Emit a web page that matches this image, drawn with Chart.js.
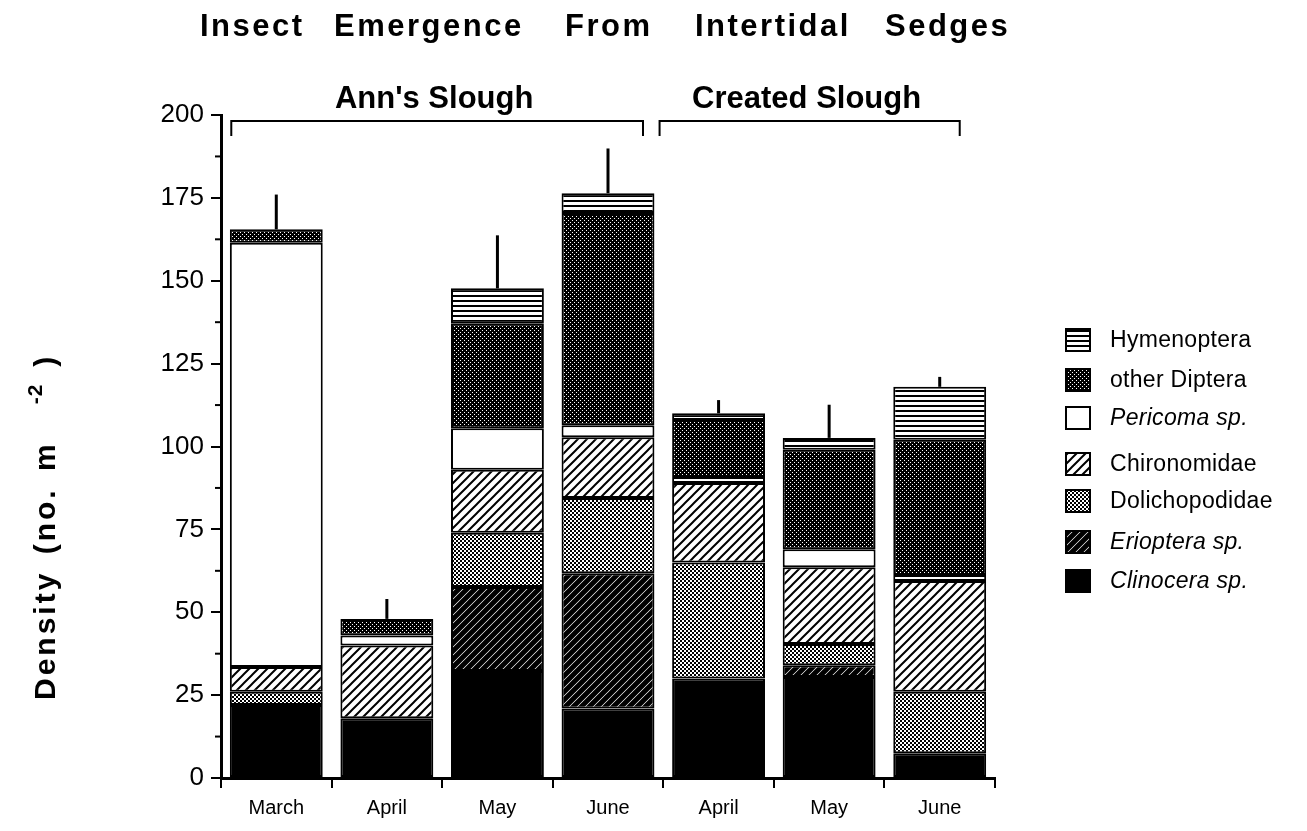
<!DOCTYPE html>
<html>
<head>
<meta charset="utf-8">
<script src="https://cdn.jsdelivr.net/npm/chart.js@4"></script>
<style>
html, body { margin: 0; padding: 0; background: #fff; }
#wrap { position: relative; width: 1307px; height: 831px; }
.tw { position: absolute; top: 10px; font: bold 31px/31px "Liberation Sans", Arial, sans-serif;
  letter-spacing: 2.5px; white-space: nowrap; color: #000; }
</style>
</head>
<body>
<div id="wrap">
  <span class="tw" style="left:200px">Insect</span>
  <span class="tw" style="left:334px">Emergence</span>
  <span class="tw" style="left:565px">From</span>
  <span class="tw" style="left:695px">Intertidal</span>
  <span class="tw" style="left:885px">Sedges</span>
  <canvas id="c" width="1307" height="831"></canvas>
</div>
<script>
// months, grouped by site
const months = ['March', 'April', 'May', 'June', 'April', 'May', 'June'];
const sites = ["Ann's Slough", 'Created Slough'];
const siteFirst = [0, 4];
const siteLast = [3, 6];

// densities (no. m-2), bottom to top of each bar
const clinocera = [22, 18, 32.3, 21, 30, 30.5, 7.5];
const erioptera = [0, 0, 25.3, 40.8, 0, 3.5, 0];
const dolichopodidae = [4, 0, 16.4, 22.7, 35, 6.4, 18.5];
const chironomidae = [7.5, 22, 19, 18.3, 24, 23.2, 33.4];
const pericoma = [128, 3, 12.5, 3.6, 1.8, 5.4, 1.8];
const otherDiptera = [4, 5, 31.7, 64, 17.2, 30, 40.8];
const hymenoptera = [0, 0, 10.5, 6, 2, 3.6, 16];
// standard error on the total
const totalSE = [10.5, 6, 16, 13.5, 4, 10, 3];

const yTicks = [0, 25, 50, 75, 100, 125, 150, 175, 200];
const yMinorTicks = [12.5, 37.5, 62.5, 87.5, 112.5, 137.5, 162.5, 187.5];

const FONT = '"Liberation Sans", Arial, sans-serif';

// fill patterns
const pctx = document.createElement('canvas').getContext('2d');
function pat(w, h, draw) {
  const c = document.createElement('canvas');
  c.width = w; c.height = h;
  const g = c.getContext('2d');
  g.fillStyle = '#fff';
  g.fillRect(0, 0, w, h);
  g.fillStyle = '#000';
  g.strokeStyle = '#000';
  draw(g, w, h);
  return pctx.createPattern(c, 'repeat');
}
function diag(s, lw) {
  return pat(s, s, function (g) {
    g.lineWidth = lw;
    g.beginPath();
    g.moveTo(0, s); g.lineTo(s, 0);
    g.moveTo(-s / 2, s / 2); g.lineTo(s / 2, -s / 2);
    g.moveTo(s / 2, s * 1.5); g.lineTo(s * 1.5, s / 2);
    g.stroke();
  });
}
const fills = {
  hym: pat(4, 5, g => g.fillRect(0, 0, 4, 2)),
  dip: pat(4, 4, g => { g.fillRect(0, 0, 4, 4); g.fillStyle = '#fff'; g.fillRect(0, 0, 1, 1); g.fillRect(2, 2, 1, 1); }),
  per: '#fff',
  chi: diag(9, 2),
  dol: pat(4, 4, g => { g.fillRect(0, 0, 2, 2); g.fillRect(2, 2, 2, 2); }),
  eri: diag(8, 5),
  cli: '#000'
};

function ds(label, data, fill, italic) {
  return { label: label, data: data, backgroundColor: fill, borderColor: '#000', borderWidth: 2,
    borderSkipped: false, italic: italic };
}
const datasets = [
  ds('Clinocera sp.', clinocera, fills.cli, true),
  ds('Erioptera sp.', erioptera, fills.eri, true),
  ds('Dolichopodidae', dolichopodidae, fills.dol, false),
  ds('Chironomidae', chironomidae, fills.chi, false),
  ds('Pericoma sp.', pericoma, fills.per, true),
  ds('other Diptera', otherDiptera, fills.dip, false),
  ds('Hymenoptera', hymenoptera, fills.hym, false)
];

// text with extra letter spacing, drawn glyph by glyph (wider gap at spaces)
function spaced(ctx, text, x, y, ls, ws) {
  let cx = x;
  for (const ch of text) {
    ctx.fillText(ch, cx, y);
    cx += ctx.measureText(ch).width + ls + (ch === ' ' ? (ws || 0) : 0);
  }
  return cx - x - ls;
}

const extras = {
  id: 'extras',
  afterDatasetsDraw(chart) {
    const ctx = chart.ctx;
    const xs = chart.scales.x, ys = chart.scales.y;
    ctx.save();
    // error bars
    ctx.strokeStyle = '#000';
    ctx.lineWidth = 3;
    months.forEach(function (m, i) {
      let tot = 0;
      datasets.forEach(d => tot += d.data[i]);
      const x = xs.getPixelForValue(i);
      ctx.beginPath();
      ctx.moveTo(x, ys.getPixelForValue(tot));
      ctx.lineTo(x, ys.getPixelForValue(tot + totalSE[i]));
      ctx.stroke();
    });
    // minor y ticks
    ctx.lineWidth = 2;
    yMinorTicks.forEach(function (v) {
      const y = ys.getPixelForValue(v);
      ctx.beginPath();
      ctx.moveTo(xs.left - 6, y); ctx.lineTo(xs.left, y);
      ctx.stroke();
    });
    // site brackets
    const padL = [-45, -59], padR = [35, 20];
    ctx.fillStyle = '#000';
    ctx.font = 'bold 31px ' + FONT;
    ctx.textAlign = 'center';
    ctx.textBaseline = 'alphabetic';
    sites.forEach(function (s, k) {
      const x0 = xs.getPixelForValue(siteFirst[k]) + padL[k];
      const x1 = xs.getPixelForValue(siteLast[k]) + padR[k];
      ctx.beginPath();
      ctx.moveTo(x0, 136); ctx.lineTo(x0, 121); ctx.lineTo(x1, 121); ctx.lineTo(x1, 136);
      ctx.stroke();
      ctx.fillText(s, (x0 + x1) / 2 - 3, 108);
    });
    // y title
    ctx.save();
    ctx.translate(55, 700);
    ctx.rotate(-Math.PI / 2);
    ctx.textAlign = 'left';
    ctx.font = 'bold 30px ' + FONT;
    const w = spaced(ctx, 'Density (no. m', 0, 0, 3, 5);
    ctx.font = 'bold 21px ' + FONT;
    const sw = spaced(ctx, '-2', w + 40, -13, 1);
    ctx.font = 'bold 30px ' + FONT;
    ctx.fillText(')', w + 40 + sw + 18, 0);
    ctx.restore();
    // legend, top entry first
    const rows = [340, 380, 418, 464, 501, 542, 581];
    ctx.textAlign = 'left';
    ctx.textBaseline = 'middle';
    datasets.slice().reverse().forEach(function (d, j) {
      const y = rows[j];
      ctx.fillStyle = d.backgroundColor;
      ctx.fillRect(1066, y - 11, 24, 22);
      ctx.strokeStyle = '#000';
      ctx.lineWidth = 2;
      ctx.strokeRect(1066, y - 11, 24, 22);
      ctx.fillStyle = '#000';
      ctx.font = (d.italic ? 'italic ' : '') + '23px ' + FONT;
      spaced(ctx, d.label, 1110, y + 1, 0.3);
    });
    ctx.restore();
  }
};

new Chart(document.getElementById('c'), {
  type: 'bar',
  data: { labels: months, datasets: datasets },
  plugins: [extras],
  options: {
    responsive: false,
    animation: false,
    layout: { padding: { left: 0, right: 312, top: 115, bottom: 0 } },
    plugins: { legend: { display: false }, tooltip: { enabled: false } },
    datasets: { bar: { categoryPercentage: 1, barPercentage: 0.84 } },
    scales: {
      x: {
        stacked: true,
        afterFit: s => { s.height = 53; },
        grid: { display: true, drawOnChartArea: false, offset: true, tickLength: 10, color: '#000', lineWidth: 2 },
        border: { color: '#000', width: 3 },
        ticks: { color: '#000', font: { family: FONT, size: 20 }, padding: 8 }
      },
      y: {
        stacked: true,
        min: 0, max: 200,
        afterFit: s => { s.width = 221; },
        afterBuildTicks: s => { s.ticks = yTicks.map(v => ({ value: v })); },
        grid: { drawOnChartArea: false, tickLength: 10, color: '#000', lineWidth: 2 },
        border: { color: '#000', width: 3 },
        ticks: { color: '#000', font: { family: FONT, size: 26 }, padding: 7 }
      }
    }
  }
});
</script>
</body>
</html>
